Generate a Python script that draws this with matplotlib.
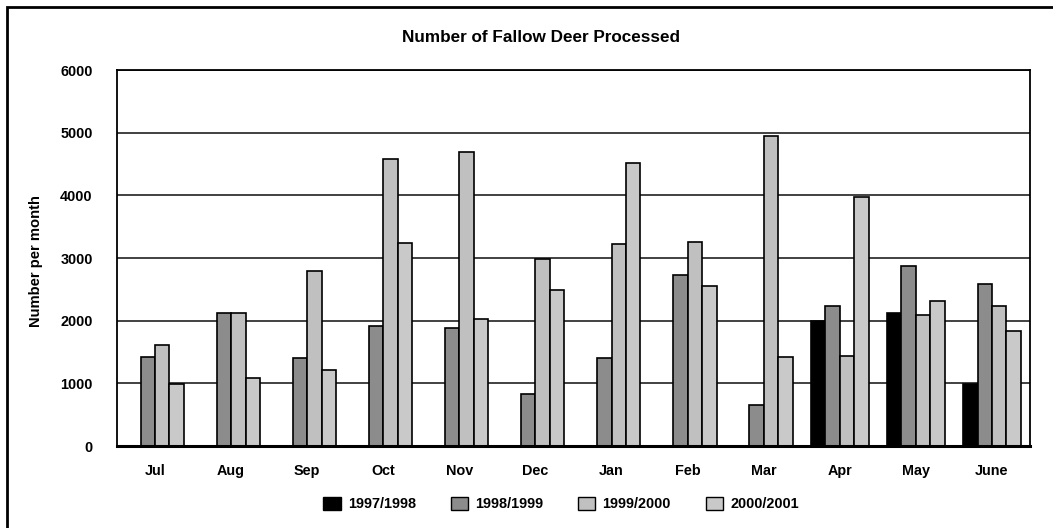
import matplotlib
matplotlib.use("Agg")
import matplotlib.pyplot as plt
import numpy as np
from matplotlib.patches import Rectangle, Patch

months = ["Jul", "Aug", "Sep", "Oct", "Nov", "Dec", "Jan", "Feb", "Mar", "Apr", "May", "June"]
series_names = ["1997/1998", "1998/1999", "1999/2000", "2000/2001"]
s1997 = [0, 0, 0, 0, 0, 0, 0, 0, 0, 1995, 2117, 990]
s1998 = [1420, 2117, 1400, 1910, 1883, 825, 1400, 2723, 654, 2239, 2872, 2580]
s1999 = [1610, 2117, 2798, 4585, 4691, 2979, 3218, 3255, 4941, 1441, 2095, 2239]
s2000 = [990, 1080, 1208, 3239, 2032, 2489, 4521, 2558, 1415, 3973, 2309, 1840]
yticks = [0, 1000, 2000, 3000, 4000, 5000, 6000]
colors = ["#000000", "#8c8c8c", "#c0c0c0", "#c9c9c9"]

plt.rcParams['font.family'] = ['Liberation Sans', 'DejaVu Sans']
plt.rcParams['font.weight'] = 'bold'

W, H = 1053, 528
fig = plt.figure(figsize=(W / 100, H / 100), dpi=100)
ax = fig.add_axes([117 / W, (H - 446) / H, (1030 - 117) / W, (446 - 70) / H])

x = np.arange(len(months))
bw = 0.19
data = [s1997, s1998, s1999, s2000]
for i, (vals, c, name) in enumerate(zip(data, colors, series_names)):
    ax.bar(x + (i - 1.5) * bw, vals, width=bw, color=c, edgecolor="black",
           linewidth=1.2, label=name, zorder=3)

ax.set_xlim(-0.5, len(months) - 0.5)
ax.set_ylim(0, 6000)
ax.set_yticks(yticks)
ax.set_yticklabels([str(v) for v in yticks], fontsize=10.4, fontweight='bold')
ax.set_xticks(x)
ax.set_xticklabels(months, fontsize=10.4, fontweight='bold')
ax.tick_params(axis='both', length=0)
ax.tick_params(axis='y', pad=17.5)
ax.tick_params(axis='x', pad=13)
ax.yaxis.grid(True, color="#333333", linewidth=1.3, zorder=0)
ax.set_axisbelow(True)
for side in ["left", "top", "right"]:
    ax.spines[side].set_linewidth(1.3)
    ax.spines[side].set_color("black")
ax.spines["bottom"].set_linewidth(2.2)
ax.spines["bottom"].set_zorder(5)

ax.set_ylabel("Number per month", fontsize=10.6, fontweight='bold')
ax.yaxis.set_label_coords(-74 / (1030 - 117), 0.492)

fig.text((402 + 680) / 2 / W, 1 - 37 / H, "Number of Fallow Deer Processed",
         ha="center", va="center", fontsize=12.3, fontweight='bold')

handles = [Patch(facecolor=c, edgecolor="black", linewidth=1.0) for c in colors]
leg = fig.legend(handles, series_names, loc="center", bbox_to_anchor=(561 / W, 1 - 504 / H),
                 ncol=4, frameon=False, fontsize=10.4, handlelength=1.2, handleheight=1.1,
                 handletextpad=0.5, columnspacing=2.4)

# outer frame
fig.patches.append(Rectangle((7 / W, -0.1), 1.2, (H - 7) / H + 0.1, transform=fig.transFigure,
                             fill=False, edgecolor="black", linewidth=2.0, zorder=10))

fig.savefig("out.png", dpi=100)
